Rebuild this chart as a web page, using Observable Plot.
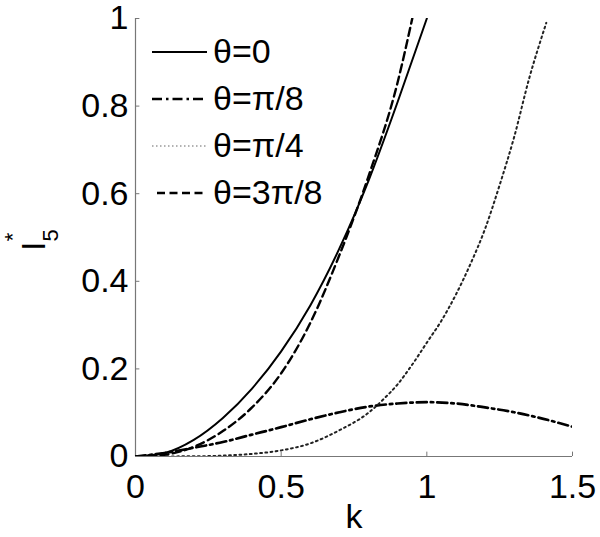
<!DOCTYPE html>
<html><head><meta charset="utf-8">
<script src="https://cdn.jsdelivr.net/npm/d3@7"></script>
<script src="https://cdn.jsdelivr.net/npm/@observablehq/plot@0.6"></script>
<style>
body{margin:0;background:#fff;}
#wrap{position:relative;width:600px;height:537px;font-family:"Liberation Sans",Arial,sans-serif;}
#legend{position:absolute;left:151px;top:28px;}
.row{display:flex;align-items:center;height:47px;font-size:34px;color:#000;}
.row svg{margin-right:6px;}
</style></head>
<body><div id="wrap"><div id="chart"></div><div id="legend"></div></div>
<script>
// k values and I5* values per series
const kTheta0 = [0, 0.1, 0.2, 0.3, 0.4, 0.5, 0.6, 0.7, 0.8, 0.9, 1.0];
const vTheta0 = [0, 0.008, 0.038, 0.088, 0.155, 0.24, 0.345, 0.475, 0.63, 0.81, 1.0];

const kThetaPi8 = [0, 0.1, 0.2, 0.3, 0.4, 0.5, 0.6, 0.7, 0.8, 0.9, 1.0, 1.1, 1.2, 1.3, 1.4, 1.5];
const vThetaPi8 = [0, 0.008, 0.02, 0.033, 0.05, 0.067, 0.085, 0.101, 0.114, 0.121, 0.124, 0.121, 0.112, 0.101, 0.086, 0.068];

const kThetaPi4 = [0, 0.2, 0.3, 0.4, 0.5, 0.6, 0.7, 0.8, 0.85, 0.9, 0.95, 1.0, 1.05, 1.1, 1.15, 1.2, 1.25, 1.3, 1.35, 1.41];
const vThetaPi4 = [0, 0.0005, 0.002, 0.006, 0.014, 0.03, 0.06, 0.10, 0.13, 0.165, 0.21, 0.26, 0.31, 0.37, 0.44, 0.52, 0.62, 0.73, 0.86, 0.99];

const kTheta3Pi8 = [0, 0.1, 0.2, 0.3, 0.4, 0.5, 0.6, 0.7, 0.8, 0.9, 0.95];
const vTheta3Pi8 = [0, 0.004, 0.022, 0.058, 0.112, 0.19, 0.305, 0.46, 0.64, 0.855, 1.0];

const seriesNames = ["θ=0", "θ=π/8", "θ=π/4", "θ=3π/8"];

const xTicks = [0, 0.5, 1, 1.5];
const xTickLabels = ["0", "0.5", "1", "1.5"];
const yTicks = [0, 0.2, 0.4, 0.6, 0.8, 1];
const yTickLabels = ["0", "0.2", "0.4", "0.6", "0.8", "1"];

const styles = [
  {stroke: "#000", strokeWidth: 2, dash: null},
  {stroke: "#000", strokeWidth: 2.7, dash: "10,4,2.5,4"},
  {stroke: "#222", strokeWidth: 2, dash: "1.8,3.4"},
  {stroke: "#000", strokeWidth: 2.4, dash: "8,4.5"}
];
const legendStyles = [
  styles[0], styles[1],
  {stroke: "#999", strokeWidth: 1.6, dash: "1.5,2.5"},
  styles[3]
];

const toRows = (ks, vs) => ks.map((k, i) => ({k, v: vs[i]}));
const data = [
  toRows(kTheta0, vTheta0),
  toRows(kThetaPi8, vThetaPi8),
  toRows(kThetaPi4, vThetaPi4),
  toRows(kTheta3Pi8, vTheta3Pi8)
];

const axisColor = "#777";

const chart = Plot.plot({
  width: 600, height: 537,
  marginLeft: 135, marginRight: 28, marginTop: 18, marginBottom: 81,
  x: {domain: [0, 1.5]},
  y: {domain: [0, 1]},
  style: {fontFamily: "Liberation Sans, Arial, sans-serif", fontSize: "34px", color: "#000", background: "#fff", overflow: "visible"},
  marks: [
    Plot.ruleY([0], {stroke: axisColor, strokeWidth: 1.2}),
    Plot.ruleX([0], {stroke: axisColor, strokeWidth: 1.2}),
    Plot.ruleX(xTicks, {x: d => d, y1: 0, y2: 0.01, stroke: axisColor}),
    Plot.ruleY(yTicks, {y: d => d, x1: 0, x2: 0.015, stroke: axisColor}),
    Plot.axisX({ticks: xTicks, tickFormat: (d, i) => xTickLabels[i], tickSize: 0, tickPadding: 17, label: null, fontSize: 34}),
    Plot.axisY({ticks: yTicks, tickFormat: (d, i) => yTickLabels[i], tickSize: 0, tickPadding: 7, label: null, fontSize: 34}),
    ...data.map((rows, i) => Plot.line(rows, {
      x: "k", y: "v", curve: "monotone-x",
      stroke: styles[i].stroke, strokeWidth: styles[i].strokeWidth,
      strokeDasharray: styles[i].dash, clip: true
    })),
    Plot.text(["k"], {frameAnchor: "bottom", dy: 71, fontSize: 34, fill: "#000"})
  ]
});
document.getElementById("chart").appendChild(chart);

// y-axis label: I with subscript 5 and superscript *
const svg = d3.select(chart);
const ylab = svg.append("text")
  .attr("transform", `translate(45, ${chart.scale("y").apply(0.5) + 14}) rotate(-90)`)
  .attr("text-anchor", "start")
  .attr("font-size", 34)
  .attr("fill", "#000");
ylab.append("tspan").text("I");
ylab.append("tspan").attr("font-size", 22).attr("dy", 13).text("5");
ylab.append("tspan").attr("font-size", 22).attr("dx", -12).attr("dy", -38).text("*");

// legend
const legend = d3.select("#legend");
seriesNames.forEach((name, i) => {
  const st = legendStyles[i];
  const row = legend.append("div").attr("class", "row");
  const s = row.append("svg").attr("width", 56).attr("height", 10);
  s.append("line").attr("x1", i === 3 ? 6 : 1).attr("x2", 56).attr("y1", 5).attr("y2", 5)
    .attr("stroke", st.stroke).attr("stroke-width", st.strokeWidth)
    .attr("stroke-dasharray", st.dash);
  row.append("span").text(name);
});
</script>
</body></html>
